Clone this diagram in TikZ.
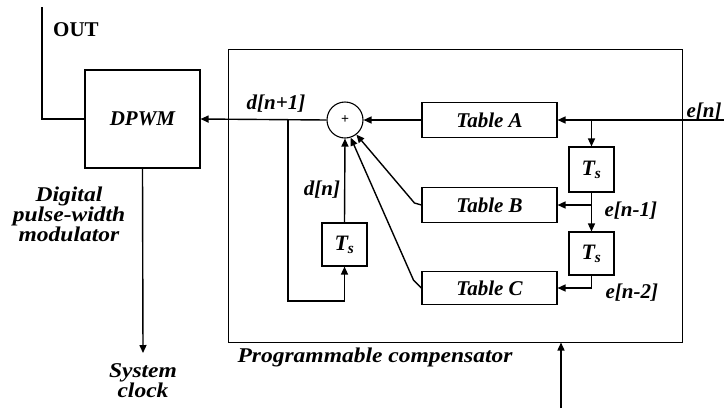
\documentclass[tikz,border=0pt]{standalone}
\usepackage{fontspec}
\setmainfont{Liberation Serif}
\newfontfamily\widefont[FakeStretch=1.12]{Liberation Serif}
\usetikzlibrary{arrows.meta,calc}
\begin{document}
\begin{tikzpicture}[x=1pt,y=-1pt,
  ln/.style={line width=1.4pt},
  arr/.style={line width=1.4pt,-{Triangle[length=8pt,width=7pt]}},
  box/.style={draw,line width=1.1pt,inner sep=0pt},
  bi/.style={font=\fontsize{21}{23}\selectfont\bfseries\itshape},
  tsf/.style={font=\fontsize{22}{24}\selectfont\bfseries\itshape},
  lab/.style={font=\widefont\fontsize{21}{20}\selectfont\bfseries\itshape,align=center}]
\useasboundingbox (0,0) rectangle (724,408);
% boxes
\node[box,minimum width=115pt,minimum height=98pt,bi] (dpwm) at (142.5,119) {DPWM};
\node[draw,line width=1pt,minimum width=454pt,minimum height=293pt] (comp) at (455,195.5) {};
\node[draw,circle,line width=1.1pt,minimum size=36pt,inner sep=0pt,font=\fontsize{14}{14}\selectfont\bfseries] (sum) at (345,120) {+};
\node[box,minimum width=135pt,minimum height=35pt,bi] (ta) at (489.5,120) {Table A};
\node[box,minimum width=135pt,minimum height=35pt,bi] (tb) at (489.5,205) {Table B};
\node[box,minimum width=135pt,minimum height=33pt,bi] (tc) at (489.5,288) {Table C};
\node[box,minimum width=45pt,minimum height=45pt,tsf] (ts1) at (591.5,169.5) {T\textsubscript{s}};
\node[box,minimum width=45pt,minimum height=43pt,tsf] (ts2) at (591.5,253.5) {T\textsubscript{s}};
\node[box,minimum width=45pt,minimum height=43pt,tsf] (ts0) at (344.5,244.5) {T\textsubscript{s}};
% coordinates
\coordinate (ein) at (724,120);
\coordinate (outtop) at (42,7);
\coordinate (sysclk) at (143,353);
\coordinate (clk) at (561,408);
\coordinate (jd) at (288,120);
\coordinate (je) at (591.5,120);
\coordinate (je1) at (591.5,205);
% connectors
\draw[ln] (outtop) |- (dpwm.west);
\draw[arr] (dpwm.south) -- (sysclk);
\draw[arr] (sum.west) -- (dpwm.east);
\draw[arr] (jd) -- ++(0,181) -| (ts0.south);
\draw[arr] (ts0.north) -- (sum.south);
\draw[arr] (ein) -- (ta.east);
\draw[arr] (je) -- (ts1.north);
\draw[arr] (ts1.south) -- (ts2.north);
\draw[arr] (je1) -- (tb.east);
\draw[arr] (ts2.south) |- (tc.east);
\draw[arr] (ta.west) -- (sum.east);
\draw[arr] (tb.west) -- ++(-7,-2) -- (sum.-52);
\draw[arr] (tc.west) -- ++(-8,-8) -- (sum.-72);
\draw[arr] (clk) -- (clk |- comp.south);
% labels
\node[font=\fontsize{21}{23}\selectfont\bfseries] (outl) at (76,30) {OUT};
\node[bi] (dn1) at (276,104) {d[n+1]};
\node[bi] (dn) at (322,190) {d[n]};
\node[bi] (en) at (704,112) {e[n]};
\node[bi,anchor=west] (en1) at (601,211) {e[n-1]};
\node[bi,anchor=west] (en2) at (602,293) {e[n-2]};
\node[lab] (dpl) at (69,214) {Digital\\pulse-width\\modulator};
\node[lab] (scl) at (143,381) {System\\clock};
\node[lab,anchor=west] (pcl) at (234,357) {Programmable compensator};
\end{tikzpicture}
\end{document}
